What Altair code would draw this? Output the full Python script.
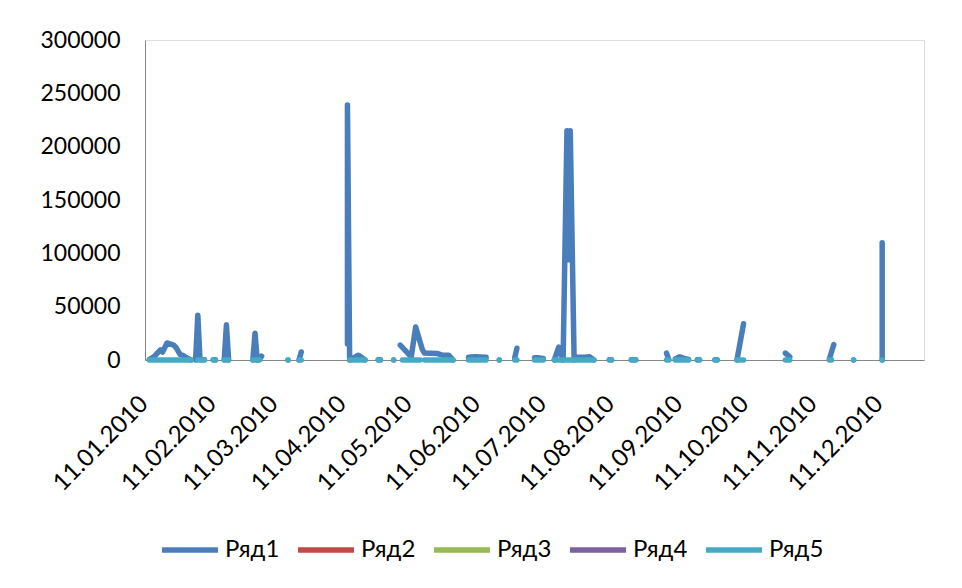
import altair as alt
import pandas as pd

series_names = ["Ряд1", "Ряд2", "Ряд3", "Ряд4", "Ряд5"]
series_colors = ["#4A7EBB", "#BE4B48", "#98B954", "#7D60A0", "#46AAC5"]

tick_dates = ["2010-01-11", "2010-02-11", "2010-03-11", "2010-04-11", "2010-05-11", "2010-06-11",
              "2010-07-11", "2010-08-11", "2010-09-11", "2010-10-11", "2010-11-11", "2010-12-11"]
x_start = "2010-01-11"
x_end = "2010-12-31"
y_ticks = [0, 50000, 100000, 150000, 200000, 250000, 300000]

# Ряд1 (None = gap in the series)
r1_dates = [
    "2010-01-13", "2010-01-15", "2010-01-18", "2010-01-19", "2010-01-21", "2010-01-24", "2010-01-25",
    "2010-01-27", "2010-01-28", "2010-01-30", "2010-02-01",
    "2010-02-02",
    "2010-02-03", "2010-02-04", "2010-02-05", "2010-02-07",
    "2010-02-09",
    "2010-02-11", "2010-02-12",
    "2010-02-14",
    "2010-02-16", "2010-02-17", "2010-02-18",
    "2010-02-24",
    "2010-03-01", "2010-03-02", "2010-03-03", "2010-03-04", "2010-03-05",
    "2010-03-10",
    "2010-03-17",
    "2010-03-19",
    "2010-03-22", "2010-03-23",
    "2010-04-01",
    "2010-04-13", "2010-04-13", "2010-04-14", "2010-04-15", "2010-04-18", "2010-04-19", "2010-04-21",
    "2010-04-24",
    "2010-04-27", "2010-04-28",
    "2010-05-01",
    "2010-05-04",
    "2010-05-05",
    "2010-05-07", "2010-05-12", "2010-05-14", "2010-05-17", "2010-05-18", "2010-05-24", "2010-05-26",
    "2010-05-29", "2010-05-31",
    "2010-06-03",
    "2010-06-07", "2010-06-10", "2010-06-15",
    "2010-06-18",
    "2010-06-21",
    "2010-06-24",
    "2010-06-28", "2010-06-29",
    "2010-07-03",
    "2010-07-07", "2010-07-09", "2010-07-11",
    "2010-07-13",
    "2010-07-16", "2010-07-18", "2010-07-20", "2010-07-21T18:00", "2010-07-22T12:00", "2010-07-23T06:00",
    "2010-07-25", "2010-07-26", "2010-07-30", "2010-08-01", "2010-08-03",
    "2010-08-06",
    "2010-08-10", "2010-08-11",
    "2010-08-15",
    "2010-08-20", "2010-08-22",
    "2010-08-29",
    "2010-09-05", "2010-09-06",
    "2010-09-07",
    "2010-09-09", "2010-09-11", "2010-09-13", "2010-09-15",
    "2010-09-17",
    "2010-09-19", "2010-09-20",
    "2010-09-23",
    "2010-09-27", "2010-09-28",
    "2010-10-03",
    "2010-10-07", "2010-10-10",
    "2010-10-18",
    "2010-10-29", "2010-10-31",
    "2010-11-06",
    "2010-11-18", "2010-11-20",
    "2010-11-24",
    "2010-11-29",
    "2010-12-05",
    "2010-12-12", "2010-12-12",
]
r1_values = [
    500, 3000, 9500, 7500, 16000, 14000, 12000, 5000, 4500, 2000, 0,
    None,
    0, 42000, 500, 300,
    None,
    300, 200,
    None,
    0, 33000, 0,
    None,
    0, 25000, 0, 500, 3500,
    None,
    0,
    None,
    0, 7500,
    None,
    15000, 239000, 0, 1000, 4500, 3000, 0,
    None,
    200, 300,
    None,
    0,
    None,
    14000, 3000, 31000, 10000, 6500, 6000, 4500, 4500, 0,
    None,
    2500, 3000, 2500,
    None,
    0,
    None,
    2000, 11000,
    None,
    2000, 2000, 1500,
    None,
    0, 12000, 0, 215000, 94000, 215000,
    0, 2500, 2500, 3000, 0,
    None,
    300, 200,
    None,
    300, 200,
    None,
    6500, 500,
    None,
    1000, 3000, 1500, 500,
    None,
    200, 300,
    None,
    300, 200,
    None,
    0, 34000,
    None,
    6500, 3000,
    None,
    1000, 14500,
    None,
    0,
    None,
    0, 110000,
]

# Ряд2 - Ряд4: no visible values
r2_dates, r2_values = [], []
r3_dates, r3_values = [], []
r4_dates, r4_values = [], []

# Ряд5 (None = gap in the series)
r5_dates = [
    "2010-01-13", "2010-02-01", "2010-02-02",
    "2010-02-04", "2010-02-07", "2010-02-09",
    "2010-02-11", "2010-02-12", "2010-02-14",
    "2010-02-16", "2010-02-18", "2010-02-24",
    "2010-03-01", "2010-03-04", "2010-03-10",
    "2010-03-17", "2010-03-19",
    "2010-03-22", "2010-03-23", "2010-04-01",
    "2010-04-14", "2010-04-21", "2010-04-24",
    "2010-04-27", "2010-04-28", "2010-05-01",
    "2010-05-04", "2010-05-05",
    "2010-05-08", "2010-05-16", "2010-05-17",
    "2010-05-18", "2010-05-31", "2010-06-03",
    "2010-06-07", "2010-06-15", "2010-06-18",
    "2010-06-21", "2010-06-24",
    "2010-06-28", "2010-06-29", "2010-07-03",
    "2010-07-07", "2010-07-11", "2010-07-13",
    "2010-07-16", "2010-08-03", "2010-08-06",
    "2010-08-10", "2010-08-11", "2010-08-15",
    "2010-08-20", "2010-08-22", "2010-08-29",
    "2010-09-05", "2010-09-06", "2010-09-07",
    "2010-09-09", "2010-09-15", "2010-09-17",
    "2010-09-19", "2010-09-20", "2010-09-23",
    "2010-09-27", "2010-09-28", "2010-10-03",
    "2010-10-07", "2010-10-10", "2010-10-18",
    "2010-10-29", "2010-10-31", "2010-11-06",
    "2010-11-18", "2010-11-19", "2010-11-24",
    "2010-11-29", "2010-12-05",
    "2010-12-12",
]
r5_values = [
    0, 0, None,
    0, 0, None,
    0, 0, None,
    0, 0, None,
    0, 0, None,
    0, None,
    0, 0, None,
    0, 0, None,
    0, 0, None,
    0, None,
    0, 0, None,
    0, 0, None,
    0, 0, None,
    0, None,
    0, 0, None,
    0, 0, None,
    0, 0, None,
    0, 0, None,
    0, 0, None,
    0, 0, None,
    0, 0, None,
    0, 0, None,
    0, 0, None,
    0, 0, None,
    0, 0, None,
    0, 0, None,
    0, None,
    0,
]


def frame(name, dates, values):
    return pd.DataFrame({
        "series": name,
        "date": pd.to_datetime(dates, format="ISO8601"),
        "value": values,
        "idx": list(range(len(dates))),
    })


df1 = frame("Ряд1", r1_dates, r1_values)
df5 = frame("Ряд5", r5_dates, r5_values)


def dt(s):
    y, m, d = [int(v) for v in s.split("-")]
    return alt.DateTime(year=y, month=m, date=d)


FONT = "Lato"

x_enc = alt.X(
    "date:T",
    scale=alt.Scale(domain=[dt(x_start), dt(x_end)], nice=False),
    axis=alt.Axis(
        values=[dt(s) for s in tick_dates],
        format="%d.%m.%Y",
        labelAngle=-45,
        labelAlign="right",
        labelBaseline="middle",
        labelPadding=40,
        labelOffset=-1,
        labelOverlap=False,
        labelFlush=False,
        labelBound=False,
        ticks=False,
        grid=False,
        title=None,
        domainColor="#868686",
        labelFont=FONT,
        labelFontSize=24,
        labelColor="#000000",
        zindex=0,
    ),
)
y_enc = alt.Y(
    "value:Q",
    scale=alt.Scale(domain=[0, 300000], nice=False, zero=True),
    axis=alt.Axis(
        values=y_ticks,
        format="d",
        ticks=False,
        grid=False,
        title=None,
        labelPadding=25,
        domainColor="#868686",
        labelFont=FONT,
        labelFontSize=23,
        labelColor="#000000",
        zindex=0,
    ),
)
color_enc = alt.Color(
    "series:N",
    scale=alt.Scale(domain=series_names, range=series_colors),
    legend=alt.Legend(
        title=None,
        orient="none",
        direction="horizontal",
        legendX=14,
        legendY=479,
        symbolType="stroke",
        symbolSize=3136,
        symbolStrokeWidth=5.5,
        labelFont=FONT,
        labelFontSize=24,
        labelColor="#000000",
        labelOffset=4,
        columnPadding=7,
        padding=0,
    ),
)

line_style = dict(strokeWidth=5.5, strokeCap="round", strokeJoin="round")

l1 = alt.Chart(df1).mark_line(**line_style).encode(x=x_enc, y=y_enc, color=color_enc, order="idx:Q")
l5 = alt.Chart(df5).mark_line(**line_style).encode(x=x_enc, y=y_enc, color=color_enc, order="idx:Q")

chart = alt.layer(l1, l5).properties(
    width=779,
    height=320,
    autosize=alt.AutoSizeParams(type="none"),
    padding={"left": 137, "top": 32, "right": 30, "bottom": 220},
).configure_view(stroke=None).configure(background="white")

chart.save("out.html", embed_options={"renderer": "svg", "actions": False})
